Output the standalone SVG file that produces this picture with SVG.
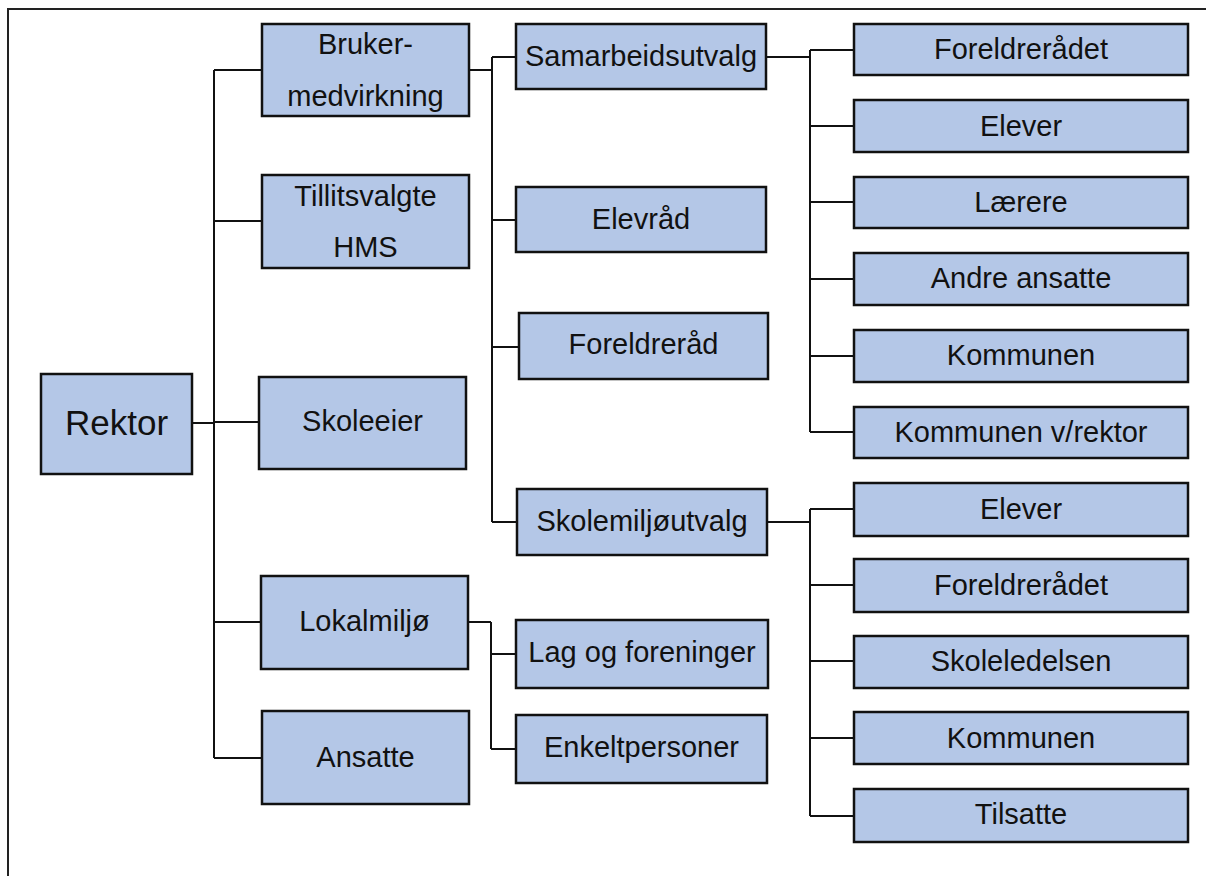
<svg xmlns="http://www.w3.org/2000/svg" width="1206" height="876" viewBox="0 0 1206 876">
<style>
.box{fill:#b4c7e7;stroke:#111;stroke-width:2.5}
.t{font-family:"Liberation Sans",Arial,sans-serif;font-size:29px;fill:#111;text-anchor:middle}
.big{font-size:35px}
.c{fill:none;stroke:#111;stroke-width:2}
</style>
<rect x="0" y="0" width="1206" height="876" fill="#fff"/>
<rect x="8" y="9" width="1260" height="900" fill="none" stroke="#222" stroke-width="2"/>
<g id="connectors">
<path class="c" d="M192 423H214M214 70V758M214 70H262M214 221H262M214 422H259M214 622H261M214 758H262"/>
<path class="c" d="M469 70H492M492 57V522M492 57H516M492 220H516M492 347H519M492 522H517"/>
<path class="c" d="M766 57H810M810 50V432M810 50H854M810 126H854M810 202H854M810 279H854M810 356H854M810 432H854"/>
<path class="c" d="M767 522H810M810 509V816M810 509H854M810 585H854M810 661H854M810 738H854M810 816H854"/>
<path class="c" d="M468 622H491M491 622V749M491 654H516M491 749H516"/>
</g>
<g id="n-rektor"><rect class="box" x="41" y="374" width="151" height="100"/><text class="t big" x="116.5" y="435">Rektor</text></g>
<g id="n-bruker"><rect class="box" x="262" y="24" width="207" height="92"/><text class="t" x="365.5" y="54">Bruker-</text><text class="t" x="365.5" y="106">medvirkning</text></g>
<g id="n-tillit"><rect class="box" x="262" y="175" width="207" height="93"/><text class="t" x="365.5" y="206">Tillitsvalgte</text><text class="t" x="365.5" y="257">HMS</text></g>
<g id="n-skoleeier"><rect class="box" x="259" y="377" width="207" height="92"/><text class="t" x="362.5" y="431">Skoleeier</text></g>
<g id="n-lokal"><rect class="box" x="261" y="576" width="207" height="93"/><text class="t" x="364.5" y="631">Lokalmiljø</text></g>
<g id="n-ansatte"><rect class="box" x="262" y="711" width="207" height="93"/><text class="t" x="365.5" y="767">Ansatte</text></g>
<g id="n-samarb"><rect class="box" x="516" y="24" width="250" height="65"/><text class="t" x="641" y="66">Samarbeidsutvalg</text></g>
<g id="n-elevrad"><rect class="box" x="516" y="187" width="250" height="65"/><text class="t" x="641" y="229">Elevråd</text></g>
<g id="n-foreldrerad"><rect class="box" x="519" y="313" width="249" height="66"/><text class="t" x="643.5" y="354">Foreldreråd</text></g>
<g id="n-skolemiljo"><rect class="box" x="517" y="489" width="250" height="66"/><text class="t" x="642" y="531">Skolemiljøutvalg</text></g>
<g id="n-lag"><rect class="box" x="516" y="620" width="252" height="68"/><text class="t" x="642" y="662">Lag og foreninger</text></g>
<g id="n-enkelt"><rect class="box" x="516" y="715" width="251" height="68"/><text class="t" x="641.5" y="757">Enkeltpersoner</text></g>
<g id="n-a1"><rect class="box" x="854" y="24" width="334" height="51"/><text class="t" x="1021" y="59">Foreldrerådet</text></g>
<g id="n-a2"><rect class="box" x="854" y="100" width="334" height="52"/><text class="t" x="1021" y="136">Elever</text></g>
<g id="n-a3"><rect class="box" x="854" y="177" width="334" height="51"/><text class="t" x="1021" y="212">Lærere</text></g>
<g id="n-a4"><rect class="box" x="854" y="253" width="334" height="52"/><text class="t" x="1021" y="288">Andre ansatte</text></g>
<g id="n-a5"><rect class="box" x="854" y="330" width="334" height="52"/><text class="t" x="1021" y="365">Kommunen</text></g>
<g id="n-a6"><rect class="box" x="854" y="407" width="334" height="51"/><text class="t" x="1021" y="442">Kommunen v/rektor</text></g>
<g id="n-b1"><rect class="box" x="854" y="483" width="334" height="53"/><text class="t" x="1021" y="519">Elever</text></g>
<g id="n-b2"><rect class="box" x="854" y="559" width="334" height="53"/><text class="t" x="1021" y="595">Foreldrerådet</text></g>
<g id="n-b3"><rect class="box" x="854" y="636" width="334" height="52"/><text class="t" x="1021" y="671">Skoleledelsen</text></g>
<g id="n-b4"><rect class="box" x="854" y="712" width="334" height="52"/><text class="t" x="1021" y="748">Kommunen</text></g>
<g id="n-b5"><rect class="box" x="854" y="789" width="334" height="53"/><text class="t" x="1021" y="824">Tilsatte</text></g>
</svg>
